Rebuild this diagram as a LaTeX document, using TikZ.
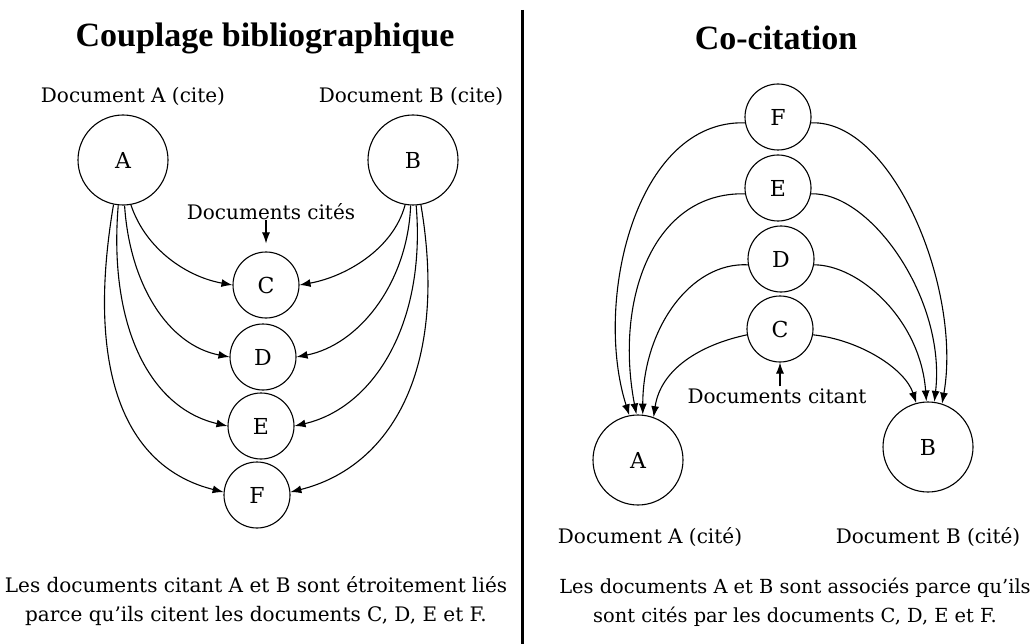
\documentclass[tikz,border=0pt]{standalone}
\usepackage{fontspec}
\setmainfont{DejaVu Serif}
\newfontfamily\titlefont{Liberation Serif}
\usetikzlibrary{arrows.meta}
\begin{document}
\begin{tikzpicture}[x=1pt,y=-1pt,
  docbig/.style={circle,draw,line width=1.1pt,minimum size=90pt,inner sep=0pt,font=\fontsize{22}{26}\selectfont},
  docsmall/.style={circle,draw,line width=1.1pt,minimum size=66pt,inner sep=0pt,font=\fontsize{22}{26}\selectfont},
  lbl/.style={font=\fontsize{20}{24}\selectfont,inner sep=0pt},
  caption/.style={font=\fontsize{20}{29}\selectfont,align=center,inner sep=0pt},
  ttl/.style={font=\titlefont\bfseries\fontsize{34}{40}\selectfont,inner sep=0pt},
  cite/.style={line width=1.1pt,-{Latex[length=11pt,width=8pt]}},
  divider/.style={line width=3pt}]
\fill[white] (0,0) rectangle (1035,644);
\useasboundingbox (0,0) rectangle (1035,644);

% divider
\coordinate (dtop) at (522,10);
\coordinate (dbot) at (522,644);
\draw[divider] (dtop) -- (dbot);

% ---------- left panel ----------
\node[ttl] (t1) at (265,38) {Couplage bibliographique};
\node[lbl] (la) at (133,96) {Document A (cite)};
\node[lbl] (lb) at (411,96) {Document B (cite)};
\node[docbig] (A) at (123,160) {A};
\node[docbig] (B) at (413,160) {B};
\node[lbl] (lc) at (271,212) {Documents cités};
\node[docsmall] (C) at (266,285) {C};
\node[docsmall] (D) at (263,357) {D};
\node[docsmall] (E) at (261,426) {E};
\node[docsmall] (F) at (257,495) {F};
\draw[cite,shorten >=8pt] (lc.south -| C.north) -- (C.north);

\draw[cite] (A.-80) .. controls +(15,45) and +(-45,-8) .. (C.west);
\draw[cite] (A.-88) .. controls +(5,78) and +(-62,-12) .. (D.west);
\draw[cite] (A.-96) .. controls +(-10,120) and +(-78,-18) .. (E.west);
\draw[cite] (A.-102) .. controls +(-28,165) and +(-100,-25) .. (F.175);

\draw[cite] (B.-100) .. controls +(-12,45) and +(45,-8) .. (C.east);
\draw[cite] (B.-93) .. controls +(-3,78) and +(62,-12) .. (D.east);
\draw[cite] (B.-86) .. controls +(10,120) and +(78,-18) .. (E.east);
\draw[cite] (B.-80) .. controls +(28,165) and +(100,-25) .. (F.5);

\node[caption] (cap1) at (256,601) {Les documents citant A et B sont étroitement liés\\parce qu'ils citent les documents C, D, E et F.};

% ---------- right panel ----------
\node[ttl] (t2) at (776,38) {Co-citation};
\node[docsmall] (F2) at (778,117) {F};
\node[docsmall] (E2) at (778,188) {E};
\node[docsmall] (D2) at (781,259) {D};
\node[docsmall] (C2) at (780,329) {C};
\node[docbig] (A2) at (638,460) {A};
\node[docbig] (B2) at (928,447) {B};
\node[lbl] (lct) at (777,396) {Documents citant};
\draw[cite] (lct.north -| C2.south) ++(0,-2) coordinate (lctn) (lctn) -- (C2.south);

\draw[cite] (F2.190) .. controls +(-110,-3) and +(-36,-113) .. (A2.101);
\draw[cite] (E2.190) .. controls +(-92,-2) and +(-22,-115) .. (A2.92);
\draw[cite] (D2.190) .. controls +(-58,-3) and +(0,-85) .. (A2.84);
\draw[cite] (C2.190) .. controls +(-47,10) and +(7,-48) .. (A2.70);

\draw[cite] (F2.-10) .. controls +(82,-3) and +(20,-114) .. (B2.72);
\draw[cite] (E2.-10) .. controls +(60,-2) and +(12,-102) .. (B2.82);
\draw[cite] (D2.-10) .. controls +(45,0) and +(-6,-82) .. (B2.92);
\draw[cite] (C2.-10) .. controls +(47,5) and +(-11,-34) .. (B2.105);

\node[lbl] (la2) at (650,537) {Document A (cité)};
\node[lbl] (lb2) at (928,537) {Document B (cité)};
\node[caption,font=\fontsize{19.4}{29}\selectfont] (cap2) at (795,602) {Les documents A et B sont associés parce qu'ils\\sont cités par les documents C, D, E et F.};
\end{tikzpicture}
\end{document}
